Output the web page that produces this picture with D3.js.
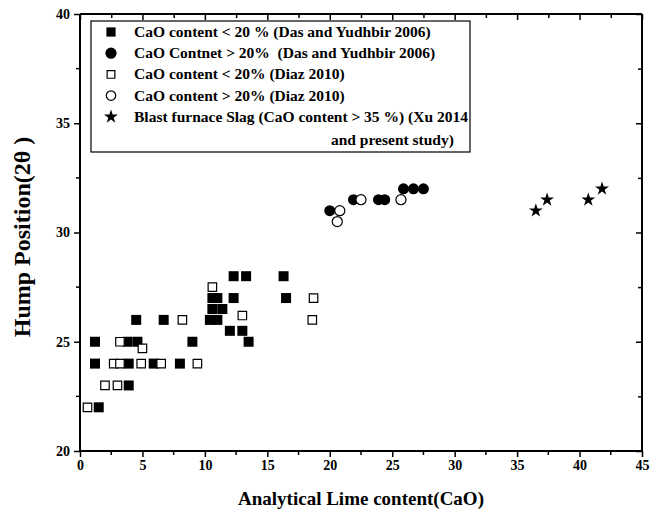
<!DOCTYPE html>
<html>
<head>
<meta charset="utf-8">
<script src="https://d3js.org/d3.v7.min.js"></script>
<style>
  body { margin: 0; background: #fff; }
  text { font-family: "Liberation Serif", "Times New Roman", serif; font-weight: bold; fill: #000; }
</style>
</head>
<body>
<div id="chart"></div>
<script>
// datos: [CaO %, posicion del hump 2theta]
var dasBajo = [[1.2,25],[1.2,24],[1.5,22],[3.9,23],[3.8,25],[4.6,25],[4.5,26],[3.9,24],[5.9,24],[6.7,26],
  [8.0,24],[9.0,25],[10.4,26],[11.0,26],[10.6,27],[11.0,27],[12.3,27],[10.6,26.5],[11.4,26.5],
  [12.0,25.5],[13.0,25.5],[13.5,25],[12.3,28],[13.3,28],[16.3,28],[16.5,27]];
var diazBajo = [[0.6,22],[2.0,23],[3.0,23],[2.7,24],[3.2,24],[4.9,24],[6.5,24],[9.4,24],[3.2,25],
  [5.0,24.7],[8.2,26],[10.6,27.5],[13.0,26.2],[18.6,26],[18.7,27]];
var dasAlto = [[20.0,31.0],[21.9,31.5],[23.9,31.5],[24.4,31.5],[25.9,32],[26.7,32],[27.5,32]];
var diazAlto = [[20.8,31],[20.6,30.5],[22.5,31.5],[25.7,31.5]];
var escoria = [[36.5,31],[37.4,31.5],[40.7,31.5],[41.8,32]];

var xTicks = [0,5,10,15,20,25,30,35,40,45];
var yTicks = [20,25,30,35,40];

var leyenda = [
  'CaO content < 20 % (Das and Yudhbir 2006)',
  'CaO Contnet > 20%  (Das and Yudhbir 2006)',
  'CaO content < 20% (Diaz 2010)',
  'CaO content > 20% (Diaz 2010)',
  'Blast furnace Slag (CaO content > 35 %) (Xu 2014'
];

var width = 652;
var height = 515;
var margin = {top: 14, right: 10, bottom: 64, left: 80};
var w = width - margin.left - margin.right;
var h = height - margin.top - margin.bottom;

var svg = d3.select('#chart')
  .append('svg')
  .attr('width', width)
  .attr('height', height);

var g = svg.append('g')
  .attr('transform', 'translate(' + margin.left + ',' + margin.top + ')');

var x = d3.scaleLinear().domain([0, 45]).range([0, w]);
var y = d3.scaleLinear().domain([20, 40]).range([h, 0]);

// ticks menores cada 2.5
var xMinor = d3.range(0, 45.1, 2.5);
var yMinor = d3.range(20, 40.1, 2.5);

// eje inferior (ticks hacia fuera)
var ejeX = g.append('g')
  .attr('transform', 'translate(0,' + h + ')')
  .call(d3.axisBottom(x).tickValues(xTicks).tickSize(6).tickPadding(3).tickFormat(d3.format('d')));
ejeX.append('g').selectAll('line')
  .data(xMinor.filter((d) => d % 5 != 0))
  .enter().append('line')
  .attr('x1', (d) => x(d)).attr('x2', (d) => x(d))
  .attr('y1', 0).attr('y2', 4)
  .attr('stroke', '#000');

// eje izquierdo
var ejeY = g.append('g')
  .call(d3.axisLeft(y).tickValues(yTicks).tickSize(6).tickPadding(4).tickFormat(d3.format('d')));
ejeY.append('g').selectAll('line')
  .data(yMinor.filter((d) => d % 5 != 0))
  .enter().append('line')
  .attr('y1', (d) => y(d)).attr('y2', (d) => y(d))
  .attr('x1', 0).attr('x2', -4)
  .attr('stroke', '#000');

// eje superior y derecho (ticks hacia dentro, sin etiquetas)
var ejeTop = g.append('g')
  .call(d3.axisTop(x).tickValues(xMinor).tickSize(-4).tickFormat(''));
ejeTop.selectAll('.tick line')
  .attr('y2', (d) => d % 5 == 0 ? 6 : 4);
var ejeRight = g.append('g')
  .attr('transform', 'translate(' + w + ',0)')
  .call(d3.axisRight(y).tickValues(yMinor).tickSize(-4).tickFormat(''));
ejeRight.selectAll('.tick line')
  .attr('x2', (d) => d % 5 == 0 ? -6 : -4);

[ejeX, ejeY, ejeTop, ejeRight].forEach((a) => {
  a.select('.domain').attr('stroke-width', 2);
  a.selectAll('line').attr('stroke-width', 1.5);
  a.selectAll('.tick text').attr('font-size', 14)
    .style('font-family', '"Liberation Serif", serif').style('font-weight', 'bold');
});
ejeX.selectAll('path.domain').attr('d', 'M0,0H' + w);
ejeY.selectAll('path.domain').attr('d', 'M0,0V' + h);
ejeTop.selectAll('path.domain').attr('d', 'M0,0H' + w);
ejeRight.selectAll('path.domain').attr('d', 'M0,0V' + h);

// simbolos
var sq = d3.symbol().type(d3.symbolSquare).size(100);
var sqOpen = d3.symbol().type(d3.symbolSquare).size(72);
var circ = d3.symbol().type(d3.symbolCircle).size(95);
var circOpen = d3.symbol().type(d3.symbolCircle).size(80);
var star = d3.symbol().type(d3.symbolStar).size(60);

var series = [
  {data: dasBajo, sym: sq, fill: '#000', stroke: 'none'},
  {data: dasAlto, sym: circ, fill: '#000', stroke: 'none'},
  {data: diazBajo, sym: sqOpen, fill: '#fff', stroke: '#000'},
  {data: diazAlto, sym: circOpen, fill: '#fff', stroke: '#000'},
  {data: escoria, sym: star, fill: '#000', stroke: 'none'}
];

// dibujo en el orden original (cuadrados abiertos encima de los negros)
[0, 2, 1, 3, 4].forEach((k) => {
  var s = series[k];
  g.append('g').selectAll('path')
    .data(s.data)
    .enter()
    .append('path')
    .attr('d', s.sym)
    .attr('transform', (d) => 'translate(' + x(d[0]) + ',' + y(d[1]) + ')')
    .attr('fill', s.fill)
    .attr('stroke', s.stroke)
    .attr('stroke-width', 1.2);
});

// leyenda
var leg = svg.append('g').attr('transform', 'translate(91,21)');
leg.append('rect')
  .attr('width', 379).attr('height', 131)
  .attr('fill', '#fff').attr('stroke', '#000').attr('stroke-width', 1.2);

var legSym = [sq.size(85)(), circ.size(100)(), sqOpen.size(60)(), circOpen.size(70)(), star.size(60)()];

var items = leg.selectAll('g.item')
  .data(series)
  .enter()
  .append('g')
  .attr('class', 'item')
  .attr('transform', (d, i) => 'translate(20,' + (11 + i * 21.2) + ')');
items.append('path')
  .attr('d', (d, i) => legSym[i])
  .attr('fill', (d) => d.fill)
  .attr('stroke', (d) => d.stroke)
  .attr('stroke-width', 1.2);
items.append('text')
  .attr('x', 23)
  .attr('y', 5)
  .attr('font-size', 15.5)
  .style('white-space', 'pre')
  .text((d, i) => leyenda[i]);
leg.append('text')
  .attr('x', 240)
  .attr('y', 124)
  .attr('font-size', 15.5)
  .text('and present study)');

// titulos de ejes
svg.append('text')
  .attr('x', margin.left + w / 2)
  .attr('y', 505)
  .attr('text-anchor', 'middle')
  .attr('font-size', 19)
  .text('Analytical Lime content(CaO)');
svg.append('text')
  .attr('transform', 'translate(30,237) rotate(-90)')
  .attr('text-anchor', 'middle')
  .attr('font-size', 24)
  .text('Hump Position(2θ )');
</script>
</body>
</html>
